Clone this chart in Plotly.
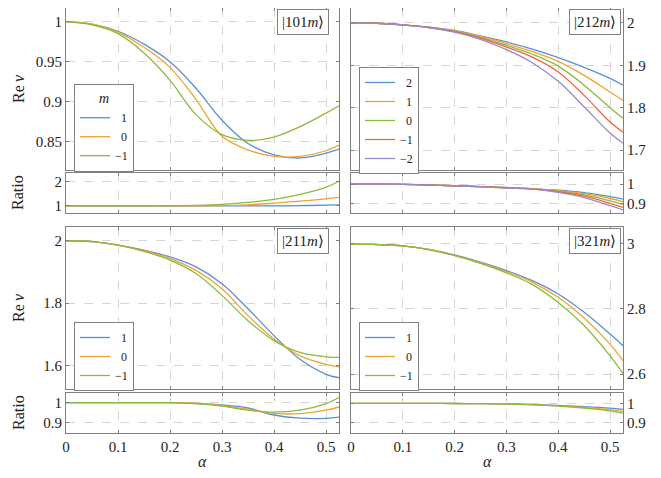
import plotly.graph_objects as go

# Browser body has an 8px margin; size the figure to fit the 661x478 window.
OFF = 8
W, H = 661 - 2 * OFF, 478 - 2 * OFF
FONT = "Liberation Serif"

alpha = [0, 0.05, 0.1, 0.15, 0.2, 0.25, 0.3, 0.35, 0.4, 0.45, 0.5, 0.525]
x_ticks = [0, 0.1, 0.2, 0.3, 0.4, 0.5]

# |101m>  Re nu
re101_p1 = [1.0, 0.997, 0.988, 0.972, 0.950, 0.917, 0.877, 0.848, 0.834, 0.830, 0.836, 0.841]
re101_0 = [1.0, 0.997, 0.987, 0.968, 0.943, 0.903, 0.857, 0.840, 0.832, 0.832, 0.839, 0.846]
re101_m1 = [1.0, 0.996, 0.985, 0.961, 0.927, 0.884, 0.859, 0.852, 0.856, 0.869, 0.886, 0.895]
# |101m>  Ratio
ra101_p1 = [1.0, 1.0, 1.0, 1.0, 1.0, 0.998, 0.995, 0.992, 0.995, 1.005, 1.025, 1.04]
ra101_0 = [1.0, 1.0, 1.0, 1.0, 1.0, 1.0, 1.005, 1.04, 1.11, 1.19, 1.29, 1.35]
ra101_m1 = [1.0, 1.0, 1.0, 1.0, 1.0, 1.02, 1.06, 1.14, 1.27, 1.47, 1.77, 2.03]

# |212m>  Re nu
re212_p2 = [2.0, 1.999, 1.995, 1.990, 1.982, 1.969, 1.955, 1.938, 1.918, 1.895, 1.869, 1.853]
re212_p1 = [2.0, 1.999, 1.995, 1.990, 1.981, 1.968, 1.951, 1.932, 1.909, 1.876, 1.837, 1.817]
re212_0 = [2.0, 1.999, 1.995, 1.989, 1.980, 1.966, 1.947, 1.926, 1.898, 1.853, 1.800, 1.775]
re212_m1 = [2.0, 1.999, 1.995, 1.989, 1.979, 1.964, 1.943, 1.919, 1.884, 1.829, 1.766, 1.742]
re212_m2 = [2.0, 1.999, 1.995, 1.989, 1.978, 1.961, 1.937, 1.906, 1.862, 1.802, 1.740, 1.716]
# |212m>  Ratio
ra212_p2 = [1.0, 1.0, 0.998, 0.995, 0.991, 0.987, 0.982, 0.976, 0.968, 0.955, 0.935, 0.922]
ra212_p1 = [1.0, 1.0, 0.998, 0.995, 0.991, 0.987, 0.981, 0.976, 0.966, 0.950, 0.925, 0.909]
ra212_0 = [1.0, 1.0, 0.998, 0.995, 0.991, 0.986, 0.981, 0.975, 0.963, 0.944, 0.913, 0.895]
ra212_m1 = [1.0, 1.0, 0.998, 0.995, 0.991, 0.986, 0.980, 0.975, 0.960, 0.937, 0.900, 0.879]
ra212_m2 = [1.0, 1.0, 0.998, 0.995, 0.990, 0.985, 0.979, 0.974, 0.957, 0.930, 0.888, 0.866]

# |211m>  Re nu
re211_p1 = [2.0, 1.997, 1.986, 1.970, 1.948, 1.916, 1.862, 1.782, 1.696, 1.620, 1.572, 1.561]
re211_0 = [2.0, 1.997, 1.986, 1.968, 1.943, 1.905, 1.846, 1.760, 1.685, 1.631, 1.604, 1.596]
re211_m1 = [2.0, 1.997, 1.986, 1.966, 1.938, 1.895, 1.825, 1.744, 1.680, 1.642, 1.628, 1.626]
# |211m>  Ratio
ra211_p1 = [1.0, 1.0, 1.0, 1.0, 1.0, 0.995, 0.988, 0.973, 0.938, 0.922, 0.921, 0.927]
ra211_0 = [1.0, 1.0, 1.0, 1.0, 1.0, 0.997, 0.985, 0.967, 0.946, 0.945, 0.962, 0.978]
ra211_m1 = [1.0, 1.0, 1.0, 1.0, 1.0, 0.995, 0.982, 0.962, 0.952, 0.962, 0.995, 1.025]

# |321m>  Re nu
re321_p1 = [3.0, 2.998, 2.994, 2.983, 2.966, 2.944, 2.918, 2.887, 2.846, 2.790, 2.723, 2.687]
re321_0 = [3.0, 2.998, 2.994, 2.983, 2.965, 2.942, 2.915, 2.882, 2.836, 2.772, 2.692, 2.641]
re321_m1 = [3.0, 2.998, 2.994, 2.982, 2.964, 2.940, 2.911, 2.875, 2.820, 2.749, 2.656, 2.602]
# |321m>  Ratio
ra321_p1 = [1.0, 1.0, 1.0, 1.0, 0.999, 0.998, 0.997, 0.994, 0.989, 0.983, 0.975, 0.969]
ra321_0 = [1.0, 1.0, 1.0, 1.0, 0.999, 0.998, 0.997, 0.993, 0.987, 0.979, 0.967, 0.958]
ra321_m1 = [1.0, 1.0, 1.0, 1.0, 0.999, 0.998, 0.996, 0.992, 0.985, 0.975, 0.961, 0.949]

BLUE, ORANGE, GREEN, RED, PURPLE = "#5b8fd4", "#f0a22e", "#8cba3f", "#f26440", "#9a88cf"
labels3 = ["\u20071", "\u20070", "\u22121"]
labels5 = ["\u20072", "\u20071", "\u20070", "\u22121", "\u22122"]

fig = go.Figure()

def add(idx, ys, names, colors, legend, showlegend):
    for y, n, c in zip(ys, names, colors):
        fig.add_trace(go.Scatter(
            x=alpha, y=y, mode="lines", name=n,
            line=dict(color=c, width=1.3, shape="spline", smoothing=1.0),
            xaxis="x" if idx == 1 else f"x{idx}",
            yaxis="y" if idx == 1 else f"y{idx}",
            legend=legend, showlegend=showlegend))

c3 = [BLUE, ORANGE, GREEN]
c5 = [BLUE, ORANGE, GREEN, RED, PURPLE]
add(1, [re101_p1, re101_0, re101_m1], labels3, c3, "legend", True)
add(2, [ra101_p1, ra101_0, ra101_m1], labels3, c3, "legend", False)
add(3, [re212_p2, re212_p1, re212_0, re212_m1, re212_m2], labels5, c5, "legend2", True)
add(4, [ra212_p2, ra212_p1, ra212_0, ra212_m1, ra212_m2], labels5, c5, "legend2", False)
add(5, [re211_p1, re211_0, re211_m1], labels3, c3, "legend3", True)
add(6, [ra211_p1, ra211_0, ra211_m1], labels3, c3, "legend3", False)
add(7, [re321_p1, re321_0, re321_m1], labels3, c3, "legend4", True)
add(8, [ra321_p1, ra321_0, ra321_m1], labels3, c3, "legend4", False)

def px_x(p):
    return (p - OFF) / W

def px_y(p):
    return 1 - (p - OFF) / H

xdom_l = [px_x(66), px_x(339)]
xdom_r = [px_x(351), px_x(623)]
ydom = {
    "tm": [px_y(170), px_y(8)],
    "tr": [px_y(213), px_y(173)],
    "bm": [px_y(389), px_y(227)],
    "br": [px_y(433), px_y(393)],
}

panels = {
    1: (xdom_l, "tm", [0.815, 1.017], [0.85, 0.9, 0.95, 1], "left", False),
    2: (xdom_l, "tr", [0.70, 2.36], [1, 2], "left", False),
    3: (xdom_r, "tm", [1.653, 2.035], [1.7, 1.8, 1.9, 2], "right", False),
    4: (xdom_r, "tr", [0.85, 1.057], [0.9, 1], "right", False),
    5: (xdom_l, "bm", [1.525, 2.044], [1.6, 1.8, 2], "left", False),
    6: (xdom_l, "br", [0.848, 1.048], [0.9, 1], "left", True),
    7: (xdom_r, "bm", [2.554, 3.052], [2.6, 2.8, 3], "right", False),
    8: (xdom_r, "br", [0.847, 1.053], [0.9, 1], "right", True),
}

FRAME = "#808080"
GRID = "#d6d6d6"
TXT = "#222222"
layout = {}
for i, (xd, yk, yr, yt, side, showx) in panels.items():
    xs = "xaxis" if i == 1 else f"xaxis{i}"
    ys = "yaxis" if i == 1 else f"yaxis{i}"
    yname = "y" if i == 1 else f"y{i}"
    xname = "x" if i == 1 else f"x{i}"
    layout[xs] = dict(
        domain=xd, anchor=yname, range=[0, 0.525], tickvals=x_ticks,
        ticktext=[f"{v:g}" for v in x_ticks], automargin=False,
        showticklabels=showx, showgrid=True, gridcolor=GRID, griddash="dash",
        gridwidth=1, zeroline=False, showline=True, linecolor=FRAME, linewidth=1,
        mirror="ticks", ticks="inside", ticklen=3, tickcolor=FRAME,
        tickfont=dict(family=FONT, size=15, color=TXT))
    layout[ys] = dict(
        domain=ydom[yk], anchor=xname, range=yr, tickvals=yt, automargin=False,
        ticktext=[f"{v:g}" for v in yt], side=side,
        showgrid=True, gridcolor=GRID, griddash="dash", gridwidth=1,
        zeroline=False, showline=True, linecolor=FRAME, linewidth=1,
        mirror="ticks", ticks="inside", ticklen=3, tickcolor=FRAME,
        tickfont=dict(family=FONT, size=15, color=TXT))

def leg(x, y, title=None):
    d = dict(x=px_x(x), y=px_y(y), xanchor="left", yanchor="top",
             bordercolor=FRAME, borderwidth=1, bgcolor="white",
             font=dict(family=FONT, size=12, color=TXT),
             itemwidth=30, tracegroupgap=0, traceorder="normal")
    if title:
        d["title"] = dict(text=title, side="top center",
                          font=dict(family=FONT, size=14, color=TXT))
    return d

layout["legend"] = leg(74, 84, "<i>m</i>")
layout["legend2"] = leg(359, 67)
layout["legend3"] = leg(74, 322)
layout["legend4"] = leg(359, 322)

ann = []
def box(text, xr, yt):
    ann.append(dict(text=text, x=px_x(xr), y=px_y(yt), xref="paper", yref="paper",
                    xanchor="right", yanchor="top", showarrow=False,
                    bordercolor=FRAME, borderwidth=1, borderpad=4, bgcolor="white",
                    font=dict(family=FONT, size=15, color=TXT)))

box("|101<i>m</i>\u27e9", 329, 9)
box("|212<i>m</i>\u27e9", 621, 9)
box("|211<i>m</i>\u27e9", 329, 228)
box("|321<i>m</i>\u27e9", 621, 228)

def lab(text, x, y, angle=0):
    ann.append(dict(text=text, x=px_x(x), y=px_y(y), xref="paper", yref="paper",
                    xanchor="center", yanchor="middle", showarrow=False, textangle=angle,
                    font=dict(family=FONT, size=16, color=TXT)))

lab("Re\u2009<i>\u03bd</i>", 18, 89, -90)
lab("Re\u2009<i>\u03bd</i>", 18, 308, -90)
lab("Ratio", 18, 193, -90)
lab("Ratio", 18, 413, -90)
lab("<i>\u03b1</i>", 202, 461)
lab("<i>\u03b1</i>", 487, 461)

fig.update_layout(**layout)
fig.update_layout(annotations=ann, width=W, height=H,
                  margin=dict(l=0, r=0, t=0, b=0, autoexpand=False),
                  paper_bgcolor="white", plot_bgcolor="white",
                  font=dict(family=FONT, size=14, color=TXT))

fig.write_html("out.html")
